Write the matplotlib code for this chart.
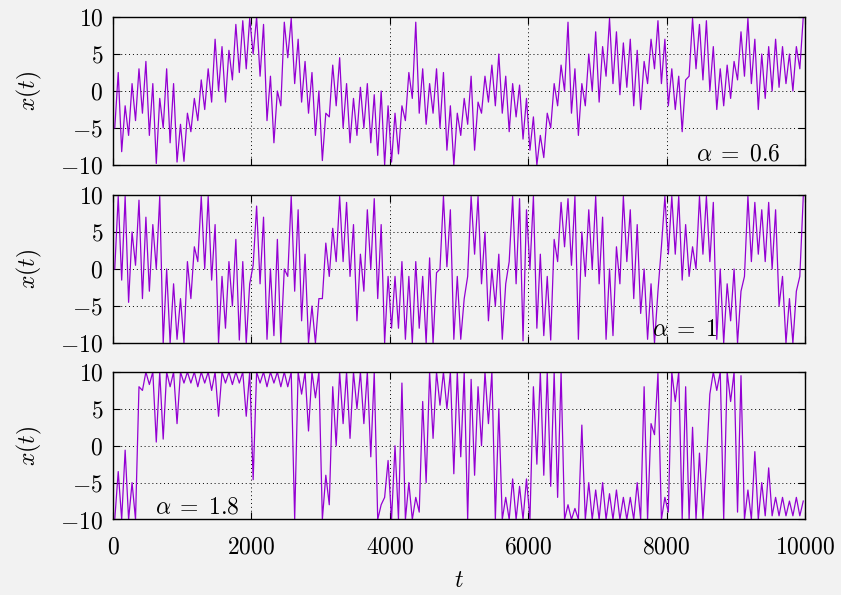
import numpy as np
import matplotlib
matplotlib.use("Agg")
import matplotlib.pyplot as plt

plt.rcParams["font.family"] = "serif"
plt.rcParams["font.serif"] = ["cmr10"]
plt.rcParams["mathtext.fontset"] = "cm"
plt.rcParams["axes.formatter.use_mathtext"] = True

# envelope of x(t) read per 100-step bin: (low, high) pairs
BIN = 100

p1_lo = [-5, -8.2, -6, -4, -3, -6, -9.8, -5, -7, -9.6,
         -9.5, -5.5, -4, -2.5, -1.5, 0, -1.5, 1.5, 2.5, 3,
         5, 2, -4, -7, -2, 4.5, 1, -1.5, -3, -6,
         -9.4, -3.5, -2, -5, -7, -6, -5, -7, -8.7, -10,
         -9.6, -8.5, -4, -1, -3, -4.5, -3, -5, -8, -10,
         -6, -4.5, -8, -3, -1.5, -2, -3, -5.5, -3.5, -6.5,
         -8, -10, -9, -5, -2, 0, -3, -6, -2, 0,
         -1.5, 2, 1, -0.5, 0.5, -2, -2.5, 1, 3, 1,
         -2, -2.5, -5.5, 2, 3, 1.5, 0, -2.5, -2, -1,
         1.5, 2, 1, -2.5, -1, 0, 0.5, 1, 0, 3]
p1_hi = [2.5, -2, 1, 3, 4, 1, -1, 3, 1, -4.5,
         -3, -1, 1.5, 3, 7, 6, 5.5, 9, 9.5, 9.8,
         10, 9, 2, 0, 9.3, 9.8, 7, 4, 2.5, 0,
         -3, 3.5, 4.5, 1, -1, 0.5, 1, -0.5, 0, -2,
         -3, -2, 2.5, 9.3, 3, 1, 3, 2.5, -2, -3,
         -1, 2, -1.5, 2, 3.5, 5, 2, 1, 0.8, -1,
         -3.5, -6, -3, 1, 3.5, 9.3, 3, 1, 5, 8,
         6, 9.8, 8, 6.5, 7, 5.5, 4, 7, 9.5, 7,
         3, 2, 1.5, 9.8, 9, 9.5, 6, 3, 3.5, 4,
         8, 9.8, 7, 5, 6, 7, 6, 5, 6, 10]

p2_lo = [0, -1.5, -4.5, 0.5, -4, -3, 0, -10, -10, -9.5,
         -10, -4, 1, 0, -1.5, -10, -8, -5, -9.6, -10,
         0.5, -2, -9.5, -9, -10, -1, -3, -7, -10, -10,
         -4, -1, 1, 1, -1, -7, -3, 0, -4, -10,
         -8, -8, -9.5, -10, -8, -10, -10, 0, 0.3, -9.5,
         -9.5, -1, 2, -2, -7, -5, -9.5, 1, -2, -9.7,
         0, -8, -9, -9.6, 1, 3, 0.5, -9.5, -1, 0,
         -2, -9.5, -9, -2, 1, -4, -6, -9.5, -10, 3,
         2, 2, -1.5, -1, 0, 2, 1, -9.5, -10, -7,
         -10, -1, 1, 2, 1, 0, -5, -10, -10, -1]
p2_hi = [9.8, 9.8, 5, 9.3, 7, 6, 9.8, 0, -2, -4,
         1, 3, 9.8, 9.8, 6, -1, 1, 4, 1, -2,
         8.5, 7, 0, 4, 0, 9.8, 8, 2, -5, -4,
         3.5, 5.5, 9.8, 9, 6, 2, 8, 9.5, 6, -1,
         -1, 1, -1, 1, -1, 1.5, -0.5, 9.8, 8, -1,
         -4, 9.8, 9.8, 5, 0, 2, -2, 9.8, 9.5, 8,
         9.8, 2, -1, 4, 9, 9.5, 9.8, 5, 8, 9.8,
         7, 0, 3, 9.8, 8, 6, 0, -2, -3, 9.8,
         9.8, 9.8, 6, 3, 9.8, 9.8, 9, 0, -2, 0,
         -3, 9.8, 9, 8, 9, 8, -1, -4, -3, 9.8]

p3_lo = [-10, -10, -10, -10, 7.5, 8.3, 0.5, 0.9, 8, 3,
         8.5, 8.5, 8, 8.5, 7.5, 4, 8.5, 8.3, 8.5, 4,
         -4.6, 8.5, 8, 8.5, 8, 8, -10, 7, 2, 6.5,
         -10, -8, 0, 3, 1, 5, 3, -1.5, -10, -7,
         -10, -10, -10, -10, -9, -5, 1, 5.5, 5, -3.8,
         -1.5, -10, -4, 0, 3, -10, -10, -10, -10, -10,
         -10, -2.5, -4, -5.5, -7, -10, -10, -10, -10, -10,
         -10, -10, -10, -10, -10, -10, -10, -10, 1.5, -10,
         -9, 6, -10, -10, -10, -10, 7, 7.5, -10, 6,
         -9, -10, -10, -10, -9.5, -9.5, -9.5, -9.5, -9.5, -9.5]
p3_hi = [-3.5, -0.6, -5, 8, 10, 10, 10, 10, 10, 10,
         10, 10, 10, 10, 10, 10, 10, 10, 10, 10,
         10, 10, 10, 10, 10, 10, 10, 10, 10, 10,
         -4, 8, 10, 10, 10, 10, 10, 10, -8, -2,
         0, 8.5, -5, -7, 6, 10, 10, 10, 10, 10,
         10, 9, 8, 10, 10, 5, -7, -4.5, -5.5, -4.5,
         8, 10, 10, 10, 10, -8, -8.5, 2.8, -5, -6,
         -5, -6.5, -6, -7, -7, -5, 8, 3, 9.8, -7,
         10, 10, 8, 2.5, -1, -2.5, 10, 10, 10, 10,
         9.5, -6, -0.8, -5, -3, -7, -7, -7.5, -7, -7.5]

alphas = ["0.6", "1", "1.8"]
x_ticks = [0, 2000, 4000, 6000, 8000, 10000]
y_ticks = [-10, -5, 0, 5, 10]

BG = "#f2f2f2"
LINE = "#9400d3"


def series(lo, hi):
    start = np.arange(len(lo)) * BIN
    t = np.column_stack([start + BIN * 0.25, start + BIN * 0.75]).ravel()
    x = np.column_stack([lo, hi]).ravel()
    return t, x


fig = plt.figure(figsize=(8.41, 5.95), dpi=100, facecolor=BG)
boxes = [(0.1344, 0.7227, 0.8228, 0.2487),
         (0.1344, 0.4235, 0.8228, 0.2488),
         (0.1344, 0.1269, 0.8228, 0.2479)]
data = [(p1_lo, p1_hi), (p2_lo, p2_hi), (p3_lo, p3_hi)]
labels = [(9650, -8.6, "right"), (8730, -8.2, "right"), (600, -8.4, "left")]

for i, (box, (lo, hi)) in enumerate(zip(boxes, data)):
    ax = fig.add_axes(box)
    ax.set_facecolor(BG)
    t, x = series(lo, hi)
    ax.plot(t, x, color=LINE, lw=0.9)
    ax.set_xlim(0, 10000)
    ax.set_ylim(-10, 10)
    ax.set_xticks(x_ticks)
    ax.set_yticks(y_ticks)
    ax.grid(True, color="black", ls=(0, (1, 3)), lw=0.7)
    ax.tick_params(direction="in", top=True, right=True, length=5,
                   width=0.8, labelsize=17)
    ax.tick_params(axis="x", pad=12)
    ax.tick_params(axis="y", pad=7)
    for s in ax.spines.values():
        s.set_linewidth(1.0)
    ax.set_ylabel("$x(t)$", fontsize=17, labelpad=12)
    if i < 2:
        ax.tick_params(labelbottom=False)
    else:
        ax.set_xlabel("$t$", fontsize=17, labelpad=8)
    lx, ly, ha = labels[i]
    ax.text(lx, ly, rf"$\alpha\;=\;{alphas[i]}$", ha=ha, va="center",
            fontsize=17)

fig.savefig("out.png", dpi=100, facecolor=BG)
